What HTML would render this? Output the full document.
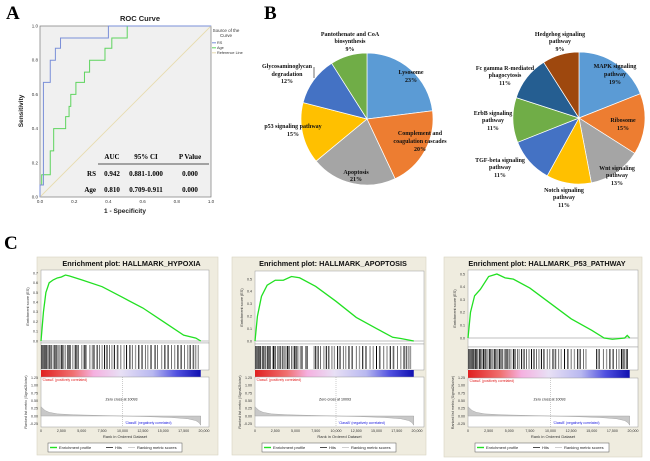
<!DOCTYPE html>
<html><head><meta charset="utf-8"><style>
body{margin:0;background:#fff;width:650px;height:461px;overflow:hidden}
svg{display:block}
text{font-family:"Liberation Sans",sans-serif}
.ser{font-family:"Liberation Serif",serif;font-weight:bold}
</style></head><body>
<svg id="fig" width="650" height="461" viewBox="0 0 650 461"></svg>
<script>
// ---------- data ----------
const rsFpr=[0,0,0.02,0.02,0.06,0.06,0.09,0.09,0.12,0.12,0.40,0.40,1];
const rsTpr=[0,0.07,0.07,0.67,0.67,0.80,0.80,0.87,0.87,0.93,0.93,1,1];
const ageFpr=[0,0,0.01,0.01,0.06,0.06,0.08,0.08,0.15,0.15,0.17,0.17,0.18,0.18,0.21,0.21,0.26,0.26,0.29,0.29,0.38,0.38,0.42,0.42,0.51,0.51,1];
const ageTpr=[0,0.07,0.07,0.13,0.13,0.27,0.27,0.40,0.40,0.47,0.47,0.53,0.53,0.60,0.60,0.67,0.67,0.73,0.73,0.80,0.80,0.87,0.87,0.93,0.93,1,1];
const rocTicks=[0,0.2,0.4,0.6,0.8,1.0];
const pie1Labels=["Lysosome","Complement and coagulation cascades","Apoptosis","p53 signaling pathway","Glycosaminoglycan degradation","Pantothenate and CoA biosynthesis"];
const pie1Values=[23,20,21,15,12,9];
const pie2Labels=["MAPK signaling pathway","Ribosome","Wnt signaling pathway","Notch signaling pathway","TGF-beta signaling pathway","ErbB signaling pathway","Fc gamma R-mediated phagocytosis","Hedgehog signaling pathway"];
const pie2Values=[19,15,13,11,11,11,11,9];
const hypoxiaRank=[0,0.3,0.6,1,1.5,2,2.5,3,3.5,5,7.5,10,12.5,15,17.5,19,19.6];
const hypoxiaES=[0,0.3,0.5,0.6,0.63,0.65,0.66,0.68,0.67,0.63,0.56,0.45,0.34,0.2,0.06,0.03,0];
const apopRank=[0,0.3,0.8,1.5,2.5,3.5,4.5,5.5,7.5,10,12.5,15,17,18,19.6];
const apopES=[0,0.2,0.36,0.45,0.49,0.49,0.52,0.51,0.44,0.32,0.19,0.1,0.03,0.02,0];
const p53Rank=[0,0.3,0.8,1.5,2.5,3.5,4.5,5.5,7.5,10,12.5,15,16.5,17.5,19,19.3,19.6];
const p53ES=[0,0.2,0.33,0.38,0.48,0.5,0.47,0.46,0.39,0.27,0.15,0.06,0,-0.01,0,0.02,0];
const hypoxiaHits=[0.1,0.2,0.3,0.4,0.5,0.6,0.7,0.8,1.0,1.1,1.3,1.5,1.7,1.9,2.1,2.3,2.5,2.6,2.8,3.0,3.3,3.5,3.6,3.9,4.2,4.4,4.6,5.0,5.3,5.5,6.0,6.3,6.5,6.9,7.2,7.5,7.8,8.1,8.4,8.7,9.0,9.4,9.8,10.2,10.5,10.9,11.2,11.6,12.0,12.4,12.8,13.1,13.5,14.0,14.3,14.8,15.2,15.6,16.0,16.4,16.8,17.2,17.6,18.0,18.3,18.7,19.0,19.3];
const apopHits=[0.1,0.2,0.3,0.4,0.5,0.6,0.7,0.9,1.0,1.1,1.3,1.5,1.6,1.8,1.9,2.2,2.3,2.5,2.8,2.9,3.1,3.4,3.6,3.8,4.0,4.2,4.5,4.7,4.9,5.1,5.3,5.6,5.8,6.3,6.5,7.3,7.5,7.8,8.1,8.5,8.8,9.1,9.5,9.8,10.2,10.5,10.9,11.2,11.6,12.0,12.5,12.9,13.3,13.7,14.2,14.6,15.0,15.4,15.9,16.3,16.7,17.1,17.6,18.0,18.4,18.7,19.0,19.2];
const p53Hits=[0.1,0.2,0.3,0.4,0.5,0.6,0.7,0.8,0.9,1.0,1.1,1.2,1.4,1.5,1.6,1.8,1.9,2.1,2.2,2.4,2.6,2.7,2.9,3.0,3.2,3.3,3.5,3.6,3.8,4.0,4.2,4.4,4.6,4.8,5.0,5.2,5.5,5.7,6.0,6.2,6.5,6.8,7.1,7.4,7.7,8.0,8.3,8.6,8.9,9.2,9.6,9.9,10.3,10.6,11.0,11.3,11.7,12.1,12.5,12.9,13.3,13.6,14.0,14.3,15.6,15.9,16.4,16.8,17.2,17.6,18.0,18.3,18.6,18.8,19.0,19.2,19.3];
const metricRank=[0,0.5,1,2,4,7,10,13,16,18,19,19.4,19.6];
const metricVal=[0.3,0.18,0.12,0.07,0.04,0.02,0,-0.02,-0.05,-0.09,-0.15,-0.22,-0.3];
const esTicksH=[0,0.1,0.2,0.3,0.4,0.5,0.6,0.7];
const esTicks5=[0,0.1,0.2,0.3,0.4,0.5];
const metricTicks=[1.25,1.00,0.75,0.50,0.25,0.00,-0.25];
const rankTicks=[0,2.5,5,7.5,10,12.5,15,17.5,20];
const rankTickLabels=["0","2,500","5,000","7,500","10,000","12,500","15,000","17,500","20,000"];

// ---------- helpers ----------
const NS="http://www.w3.org/2000/svg";
const fig=document.getElementById('fig');
function mk(tag,attrs,parent){const e=document.createElementNS(NS,tag);for(const k in attrs)e.setAttribute(k,attrs[k]);(parent||fig).appendChild(e);return e;}
function tx(x,y,s,size,extra,parent){const e=mk('text',Object.assign({x:x,y:y,'font-size':size},extra||{}),parent);e.textContent=s;return e;}

// ---------- panel letters ----------
let e;
e=tx(6,19,"A",19,{class:'ser'});


e=tx(264,19,"B",19,{class:'ser'});


e=tx(4,249,"C",19,{class:'ser'});



// ---------- ROC ----------
const rx0=40,rx1=211,ry0=26,ry1=197;
const rX=v=>rx0+v*(rx1-rx0), rY=v=>ry1-v*(ry1-ry0);
e=mk('rect',{x:rx0,y:ry0,width:rx1-rx0,height:ry1-ry0,fill:'#f0f0f0',stroke:'#777','stroke-width':0.7});


e=tx(140,21,"ROC Curve",7.5,{'text-anchor':'middle','font-weight':'bold','fill':'#222'});


rocTicks.forEach(t=>{
  e=tx(rX(t),203,t.toFixed(1),4.5,{'text-anchor':'middle',fill:'#333'});
  
  
  e=tx(rx0-2,rY(t)+1.5,t.toFixed(1),4.5,{'text-anchor':'end',fill:'#333'});
  
  
});
e=tx(125,213,"1 - Specificity",6.5,{'text-anchor':'middle','font-weight':'bold',fill:'#222'});


e=tx(0,0,"Sensitivity",6.5,{'text-anchor':'middle','font-weight':'bold',fill:'#222',transform:'translate(23,111) rotate(-90)'});


e=mk('line',{x1:rX(0),y1:rY(0),x2:rX(1),y2:rY(1),stroke:'#e8dcb0','stroke-width':0.9});


function rocLine(fx,ty,col,name){
  const p=mk('polyline',{points:fx.map((f,i)=>rX(f)+','+rY(ty[i])).join(' '),fill:'none',stroke:col,'stroke-width':1});
  
  
}
rocLine(ageFpr,ageTpr,'#5ed45e','roc-age-curve');
rocLine(rsFpr,rsTpr,'#7a8fd8','roc-rs-curve');
e=tx(226,32,"Source of the",4.5,{'text-anchor':'middle',fill:'#333'});


e=tx(226,37,"Curve",4.5,{'text-anchor':'middle',fill:'#333'});


[['RS','#7a8fd8',44],['Age','#5ed45e',49],['Reference Line','#e8dcb0',54]].forEach(l=>{
  e=mk('line',{x1:212,y1:l[2]-1.2,x2:216,y2:l[2]-1.2,stroke:l[1],'stroke-width':1});
  
  
  e=tx(217,l[2],l[0],3.8,{fill:'#333'});
  
  
});
const tcols=[112,146,190];
['AUC','95% CI','P Value'].forEach((s,i)=>{e=tx(tcols[i],159,s,7,{class:'ser','text-anchor':'middle'});

});
e=mk('line',{x1:98,y1:164,x2:209,y2:164,stroke:'#222','stroke-width':0.8});


[['RS','0.942','0.881-1.000','0.000',176],['Age','0.810','0.709-0.911','0.000',192]].forEach(r=>{
  e=tx(96,r[4],r[0],7,{class:'ser','text-anchor':'end'});
  
  
  for(let i=0;i<3;i++){e=tx(tcols[i],r[4],r[i+1],7,{class:'ser','text-anchor':'middle'});
  
  }
});

// ---------- Pies ----------
const pie1Colors=['#5b9bd5','#ed7d31','#a5a5a5','#ffc000','#4472c4','#70ad47'];
const pie2Colors=['#5b9bd5','#ed7d31','#a5a5a5','#ffc000','#4472c4','#70ad47','#255e91','#9e480e'];
function pie(cx,cy,r,vals,cols,name){
  const tot=vals.reduce((a,b)=>a+b,0);let a0=-Math.PI/2;
  vals.forEach((v,i)=>{
    const a1=a0+v/tot*2*Math.PI;
    const d=`M${cx},${cy} L${cx+r*Math.cos(a0)},${cy+r*Math.sin(a0)} A${r},${r} 0 ${a1-a0>Math.PI?1:0} 1 ${cx+r*Math.cos(a1)},${cy+r*Math.sin(a1)} Z`;
    const p=mk('path',{d:d,fill:cols[i],stroke:'#fff','stroke-width':0.7});
    
    
    a0=a1;
  });
}
pie(367,119,66,pie1Values,pie1Colors,'pie1');
pie(579,118,66,pie2Values,pie2Colors,'pie2');
const pieTexts=[
 [350,[["Pantothenate and CoA",36],["biosynthesis",43],["9%",51]]],
 [287,[["Glycosaminoglycan",68],["degradation",76],["12%",83]]],
 [293,[["p53 signaling pathway",128],["15%",136]]],
 [411,[["Lysosome",74],["23%",82]]],
 [420,[["Complement and",135],["coagulation cascades",143],["20%",151]]],
 [356,[["Apoptosis",174],["21%",181]]],
 [560,[["Hedgehog signaling",36],["pathway",43],["9%",51]]],
 [505,[["Fc gamma R-mediated",70],["phagocytosis",77],["11%",85]]],
 [493,[["ErbB signaling",115],["pathway",122],["11%",130]]],
 [500,[["TGF-beta signaling",162],["pathway",169],["11%",177]]],
 [564,[["Notch signaling",192],["pathway",199],["11%",207]]],
 [615,[["MAPK signaling",68],["pathway",76],["19%",84]]],
 [623,[["Ribosome",122],["15%",130]]],
 [617,[["Wnt signaling",170],["pathway",177],["13%",185]]]];
pieTexts.forEach(g=>g[1].forEach(l=>{
  e=tx(g[0],l[1],l[0],6,{class:'ser','text-anchor':'middle',fill:'#111'});
  
  
}));
e=mk('line',{x1:314,y1:67,x2:314,y2:78,stroke:'#111','stroke-width':0.6});



// ---------- GSEA ----------
const defs=mk('defs',{});
const lg=mk('linearGradient',{id:'rb',x1:0,x2:1,y1:0,y2:0},defs);
[['0','#e02020'],['0.2','#f07070'],['0.33','#f5b0e0'],['0.5','#e8e0f5'],['0.7','#b8b8f0'],['0.85','#5050e0'],['1','#1010b0']].forEach(s=>mk('stop',{offset:s[0],'stop-color':s[1]},lg));

function gsea(c){
  const g=mk('g',{});
  
  
  const X=r=>c.x0+r/20*(c.x20-c.x0);
  const Y=v=>c.esZero-v*c.esScale;
  const M=v=>c.mZero-v*c.mScale;
  e=mk('rect',{x:c.bl,y:c.bt,width:c.br-c.bl,height:c.bb-c.bt,fill:'#efecdf',stroke:'#d8d4c0','stroke-width':0.6},g);
  
  
  e=tx((c.bl+c.br)/2+4,c.bt+9,c.title,7.3,{'text-anchor':'middle','font-weight':'bold',fill:'#111'},g);
  
  
  e=mk('rect',{x:c.x0,y:c.esTop,width:c.xr-c.x0,height:c.esBot-c.esTop,fill:'#fff',stroke:'#999','stroke-width':0.5},g);
  
  
  e=mk('line',{x1:c.x0,x2:c.xr,y1:Y(0),y2:Y(0),stroke:'#ccc','stroke-width':1.2},g);
  
  
  c.esTicks.forEach(t=>{e=tx(c.x0-3,Y(t)+1.3,t.toFixed(1),3.6,{'text-anchor':'end',fill:'#333'},g);
  
  });
  e=tx(0,0,"Enrichment score (ES)",3.8,{'text-anchor':'middle',fill:'#333',transform:`translate(${c.x0-12},${(c.esTop+c.esBot)/2}) rotate(-90)`},g);
  
  
  e=mk('polyline',{points:c.rank.map((r,i)=>X(r)+','+Y(c.es[i])).join(' '),fill:'none',stroke:'#22e022','stroke-width':1.3},g);
  
  
  e=mk('rect',{x:c.x0,y:c.esBot,width:c.xr-c.x0,height:c.hitBot-c.esBot,fill:'#fff',stroke:'#999','stroke-width':0.5},g);
  
  
  c.hits.forEach((h,i)=>{e=mk('line',{x1:X(h),x2:X(h),y1:c.esBot+2,y2:c.hitBot-1,stroke:['#000','#666','#333','#999'][i%4],'stroke-width':[1.0,1.6,0.7,1.3][i%4]},g);
  
  });
  e=mk('rect',{x:c.x0,y:c.hitBot,width:X(19.6)-c.x0,height:c.barBot-c.hitBot,fill:'url(#rb)'},g);
  
  
  e=mk('rect',{x:c.x0,y:c.barBot,width:c.xr-c.x0,height:c.mBot-c.barBot,fill:'#fff',stroke:'#999','stroke-width':0.5},g);
  
  
  metricTicks.forEach(t=>{e=tx(c.x0-3,M(t)+1.3,t.toFixed(2),3.6,{'text-anchor':'end',fill:'#333'},g);
  
  });
  e=tx(0,0,"Ranked list metric (Signal2Noise)",3.6,{'text-anchor':'middle',fill:'#333',transform:`translate(${c.x0-14},${(c.barBot+c.mBot)/2}) rotate(-90)`},g);
  
  
  const pts=metricRank.map((r,i)=>X(r)+','+M(metricVal[i])).join(' ');
  e=mk('polygon',{points:`${X(0)},${M(0)} ${pts} ${X(19.6)},${M(0)}`,fill:'#c8c8c8',stroke:'#999','stroke-width':0.4},g);
  
  
  e=mk('line',{x1:X(10),x2:X(10),y1:c.barBot,y2:c.mBot,stroke:'#999','stroke-width':0.5,'stroke-dasharray':'1,1'},g);
  
  
  e=tx(X(10)-1,M(0.5),"Zero cross at 10093",3.6,{'text-anchor':'middle',fill:'#111'},g);
  
  
  e=tx(c.x0+1,c.barBot+4,"'ClassA' (positively correlated)",3.4,{fill:'#e02020'},g);
  
  
  e=tx(X(10.3),c.mBot-3,"'ClassB' (negatively correlated)",3.4,{fill:'#2020e0'},g);
  
  
  rankTicks.forEach((t,i)=>{e=tx(X(t),c.mBot+5,rankTickLabels[i],3.6,{'text-anchor':'middle',fill:'#333'},g);
  
  });
  e=tx((c.x0+c.xr)/2,c.mBot+11,"Rank in Ordered Dataset",4,{'text-anchor':'middle',fill:'#333'},g);
  
  
  const lx=c.legX,ly=c.mBot+16;
  e=mk('rect',{x:lx,y:ly,width:134,height:9,fill:'#fff',stroke:'#555','stroke-width':0.5},g);
  
  
  [['Enrichment profile','#22e022',2,1.4],['Hits','#000',58,0.7],['Ranking metric scores','#bbb',80,0.7]].forEach(l=>{
    e=mk('line',{x1:lx+l[2],x2:lx+l[2]+7,y1:ly+4.5,y2:ly+4.5,stroke:l[1],'stroke-width':l[3]},g);
    
    
    e=tx(lx+l[2]+9,ly+6,l[0],4,{fill:'#222'},g);
    
    
  });
}
gsea({name:'gsea-hypoxia',title:'Enrichment plot: HALLMARK_HYPOXIA',bl:37,br:218,bt:257,bb:455,x0:41,x20:204,xr:209,esTop:270,esBot:343,esZero:341,esScale:97,esTicks:esTicksH,hitBot:370,barBot:377,mZero:416,mScale:30.7,mBot:427,rank:hypoxiaRank,es:hypoxiaES,hits:hypoxiaHits,legX:48});
gsea({name:'gsea-apoptosis',title:'Enrichment plot: HALLMARK_APOPTOSIS',bl:232,br:426,bt:257,bb:455,x0:255,x20:417,xr:424,esTop:271,esBot:344,esZero:341,esScale:124,esTicks:esTicks5,hitBot:370,barBot:377,mZero:416,mScale:30.7,mBot:427,rank:apopRank,es:apopES,hits:apopHits,legX:262});
gsea({name:'gsea-p53',title:'Enrichment plot: HALLMARK_P53_PATHWAY',bl:444,br:642,bt:257,bb:457,x0:468,x20:633,xr:638,esTop:270,esBot:347,esZero:338,esScale:128,esTicks:esTicks5,hitBot:370,barBot:378,mZero:416,mScale:30.7,mBot:427,rank:p53Rank,es:p53ES,hits:p53Hits,legX:475});
</script>
</body></html>
